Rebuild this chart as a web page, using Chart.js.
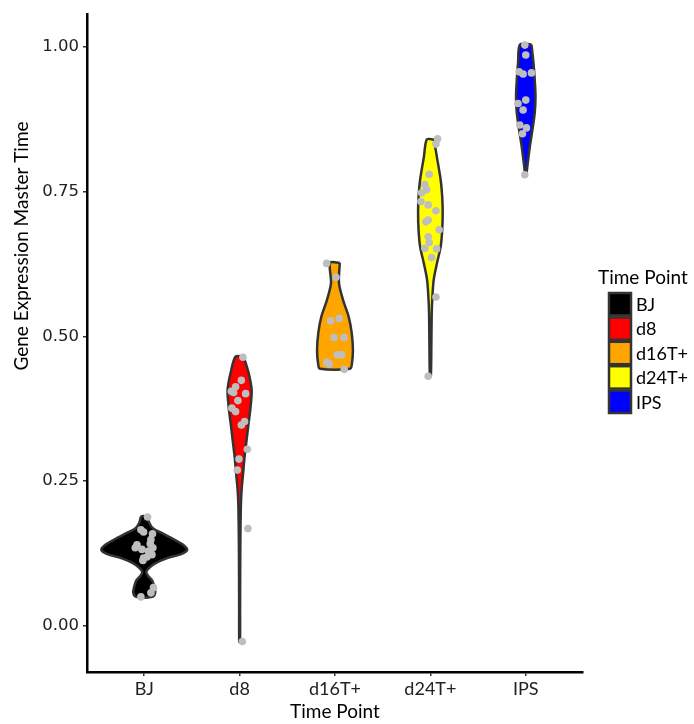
<!DOCTYPE html>
<html>
<head>
<meta charset="utf-8">
<title>Gene Expression Master Time</title>
<script src="https://cdn.jsdelivr.net/npm/chart.js@4.4.1/dist/chart.umd.min.js"></script>
<style>
  html, body { margin: 0; padding: 0; background: #fff; }
</style>
</head>
<body>
<canvas id="myChart" width="694" height="724"></canvas>
<script>
// categories and axis ticks
const timePoints = ['BJ', 'd8', 'd16T+', 'd24T+', 'IPS'];
const yTicks = [0, 0.25, 0.5, 0.75, 1.0];

// violin outlines: [level, half width in category units], top -> bottom
const bjDensity = [[0.189, 0.031], [0.178, 0.052], [0.168, 0.094], [0.161, 0.178], [0.150, 0.304],
  [0.140, 0.408], [0.131, 0.450], [0.124, 0.387], [0.117, 0.241], [0.108, 0.115], [0.100, 0.052],
  [0.093, 0.021], [0.086, 0.042], [0.078, 0.084], [0.068, 0.105], [0.057, 0.115], [0.050, 0.084]];
const d8Density = [[0.465, 0.042], [0.437, 0.094], [0.408, 0.126], [0.378, 0.115], [0.350, 0.094],
  [0.321, 0.073], [0.292, 0.052], [0.264, 0.037], [0.235, 0.021], [0.206, 0.013], [0.149, 0.008],
  [0.091, 0.006], [0.033, 0.005], [-0.028, 0.004]];
const d16Density = [[0.627, 0.050], [0.592, 0.042], [0.563, 0.084], [0.534, 0.143], [0.506, 0.175],
  [0.477, 0.188], [0.454, 0.178], [0.444, 0.157]];
const d24Density = [[0.840, 0.037], [0.810, 0.068], [0.770, 0.108], [0.741, 0.124], [0.713, 0.129],
  [0.684, 0.124], [0.655, 0.108], [0.627, 0.070], [0.598, 0.035], [0.568, 0.021], [0.540, 0.014],
  [0.482, 0.010], [0.431, 0.005]];
const ipsDensity = [[1.004, 0.060], [0.972, 0.081], [0.943, 0.094], [0.914, 0.102], [0.886, 0.094],
  [0.857, 0.070], [0.827, 0.042], [0.800, 0.021], [0.779, 0.005]];

// samples per time point (value) and their horizontal jitter
const bjValues = [0.188, 0.166, 0.162, 0.159, 0.149, 0.140, 0.135, 0.132, 0.142, 0.135, 0.129, 0.117, 0.119, 0.123, 0.113, 0.066, 0.057, 0.050];
const bjJitter = [0.035, -0.035, -0.007, 0.087, 0.070, -0.076, -0.094, -0.024, 0.063, 0.091, 0.045, -0.007, 0.028, 0.081, -0.014, 0.097, 0.070, -0.035];
const d8Values = [0.464, 0.424, 0.413, 0.405, 0.403, 0.401, 0.389, 0.376, 0.370, 0.347, 0.353, 0.305, 0.288, 0.269, 0.168, -0.027];
const d8Jitter = [0.035, 0.018, -0.042, -0.087, -0.063, 0.063, -0.018, -0.081, -0.042, 0.018, 0.052, 0.081, -0.007, -0.024, 0.087, 0.028];
const d16Values = [0.626, 0.602, 0.527, 0.531, 0.498, 0.498, 0.468, 0.468, 0.455, 0.452, 0.443];
const d16Jitter = [-0.087, 0.010, -0.045, 0.045, -0.010, 0.094, 0.024, 0.070, -0.087, -0.060, 0.097];
const d24Values = [0.841, 0.832, 0.780, 0.762, 0.753, 0.748, 0.733, 0.727, 0.717, 0.698, 0.701, 0.684, 0.672, 0.662, 0.652, 0.651, 0.636, 0.568, 0.431];
const d24Jitter = [0.075, 0.058, -0.013, -0.058, -0.040, -0.092, -0.099, -0.023, 0.058, -0.047, -0.023, 0.092, -0.023, -0.013, -0.058, 0.065, 0.013, 0.058, -0.023];
const ipsValues = [1.003, 0.986, 0.957, 0.953, 0.955, 0.908, 0.902, 0.891, 0.865, 0.860, 0.850, 0.779];
const ipsJitter = [-0.010, 0.000, -0.070, -0.028, 0.060, 0.000, -0.081, -0.028, -0.063, 0.007, -0.035, -0.010];

const densities = [bjDensity, d8Density, d16Density, d24Density, ipsDensity];
const values = [bjValues, d8Values, d16Values, d24Values, ipsValues];
const jitters = [bjJitter, d8Jitter, d16Jitter, d24Jitter, ipsJitter];

const fillColors = ['#000000', '#ff0000', '#ffa500', '#ffff00', '#0000ff'];
const fontFamily = 'Lato, "Liberation Sans", sans-serif';
const numberFont = '"DejaVu Sans", sans-serif';

// closed outline: right side going down, left side coming back up
let outline = (center, density) => {
  const right = density.map(d => ({ x: center + d[1], y: d[0] }));
  const left = density.slice().reverse().map(d => ({ x: center - d[1], y: d[0] }));
  return right.concat(left, [right[0]]);
};

const violinSets = timePoints.map((name, i) => ({
  type: 'line',
  label: name,
  isViolin: true,
  data: outline(i + 1, densities[i]),
  backgroundColor: fillColors[i],
  borderColor: '#333333',
  borderWidth: 2.5,
  borderJoinStyle: 'round',
  fill: 'shape',
  tension: 0.3,
  pointRadius: 0,
  order: 2
}));

const pointSets = timePoints.map((name, i) => ({
  type: 'scatter',
  label: name + ' samples',
  data: values[i].map((v, k) => ({ x: i + 1 + jitters[i][k], y: v })),
  backgroundColor: '#bebebe',
  borderWidth: 0,
  pointRadius: 3.8,
  order: 1
}));

/* y title sits left of the axis */
const yTitle = {
  id: 'yTitle',
  afterDraw(chart) {
    const ctx = chart.ctx;
    ctx.save();
    ctx.translate(22, 246);
    ctx.rotate(-Math.PI / 2);
    ctx.font = '19px ' + fontFamily;
    ctx.fillStyle = '#000';
    ctx.textAlign = 'center';
    ctx.textBaseline = 'middle';
    ctx.fillText('Gene Expression Master Time', 0, 0);
    ctx.restore();
  }
};

/* legend with the fill keys, right of the panel */
const sideLegend = {
  id: 'sideLegend',
  afterDraw(chart) {
    const ctx = chart.ctx;
    const sets = chart.data.datasets.filter(d => d.isViolin);
    const left = chart.chartArea.right + 25;
    const keyH = 24.4;
    const top = 292;
    ctx.save();
    ctx.font = '19px ' + fontFamily;
    ctx.fillStyle = '#000';
    ctx.textBaseline = 'middle';
    ctx.textAlign = 'left';
    ctx.fillText('Time Point', left - 10, 278);
    ctx.font = '18px ' + fontFamily;
    sets.forEach((d, i) => {
      const y = top + i * keyH;
      ctx.fillStyle = d.backgroundColor;
      ctx.fillRect(left + 1, y + 1, 22, keyH - 2);
      ctx.strokeStyle = '#333333';
      ctx.lineWidth = 2.5;
      ctx.strokeRect(left + 1, y + 1, 22, keyH - 2);
      ctx.fillStyle = '#000';
      ctx.fillText(d.label, left + 28, y + keyH / 2 + 1);
    });
    ctx.restore();
  }
};

const ctx = document.getElementById('myChart');
const chart = new Chart(ctx, {
  type: 'scatter',
  data: { datasets: pointSets.concat(violinSets) },
  options: {
    responsive: false,
    animation: false,
    layout: { padding: { top: 14, right: 111, left: 0, bottom: 0 } },
    plugins: { legend: { display: false }, tooltip: { enabled: false } },
    scales: {
      x: {
        type: 'linear',
        min: 0.4,
        max: 5.6,
        afterBuildTicks: scale => { scale.ticks = timePoints.map((_, i) => ({ value: i + 1 })); },
        afterFit: scale => { scale.height = 52; },
        ticks: {
          callback: v => timePoints[v - 1],
          color: '#222',
          font: { family: fontFamily, size: 18 },
          padding: 2,
          maxRotation: 0
        },
        grid: { drawOnChartArea: false, drawTicks: true, tickLength: 4, color: '#333', lineWidth: 1.5 },
        border: { display: true, color: '#000', width: 2.5 },
        title: {
          display: true,
          text: 'Time Point',
          color: '#000',
          font: { family: fontFamily, size: 19 },
          padding: { top: 0, bottom: 1 }
        }
      },
      y: {
        type: 'linear',
        min: -0.0797,
        max: 1.0567,
        afterBuildTicks: scale => { scale.ticks = yTicks.map(v => ({ value: v })); },
        afterFit: scale => { scale.width = 87; },
        ticks: {
          callback: v => v.toFixed(2),
          color: '#222',
          font: { family: numberFont, size: 16.5 },
          padding: 4
        },
        grid: { drawOnChartArea: false, drawTicks: true, tickLength: 4, color: '#333', lineWidth: 1.5 },
        border: { display: true, color: '#000', width: 2.5 }
      }
    }
  },
  plugins: [yTitle, sideLegend]
});
</script>
</body>
</html>
